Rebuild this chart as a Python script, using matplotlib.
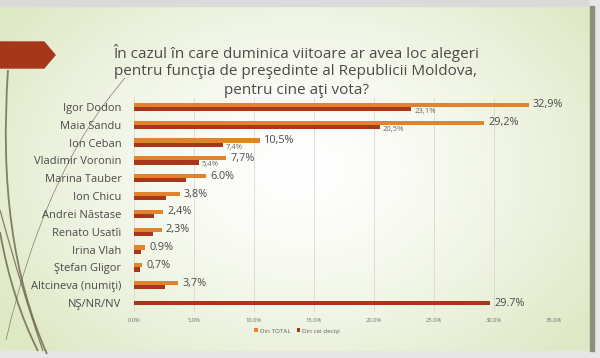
"""Poll chart: presidential vote intention, Republic of Moldova."""
import numpy as np
import matplotlib.pyplot as plt
from matplotlib.path import Path
from matplotlib.patches import PathPatch, Polygon, Rectangle

candidates = [
    "Igor Dodon", "Maia Sandu", "Ion Ceban", "Vladimir Voronin",
    "Marina Tauber", "Ion Chicu", "Andrei Năstase", "Renato Usatîi",
    "Irina Vlah", "Ştefan Gligor", "Altcineva (numiţi)", "NŞ/NR/NV",
]
din_total = [32.9, 29.2, 10.5, 7.7, 6.0, 3.8, 2.4, 2.3, 0.9, 0.7, 3.7, None]
din_decisi = [23.1, 20.5, 7.4, 5.4, 4.3, 2.7, 1.7, 1.6, 0.6, 0.5, 2.6, 29.7]
total_labels = ["32,9%", "29,2%", "10,5%", "7,7%", "6.0%", "3,8%", "2,4%",
                "2,3%", "0.9%", "0,7%", "3,7%", None]
decisi_labels = ["23,1%", "20,5%", "7,4%", "5,4%", None, None, None, None,
                 None, None, None, "29.7%"]
xticks = [0, 5, 10, 15, 20, 25, 30, 35]

title_lines = [
    "În cazul în care duminica viitoare ar avea loc alegeri",
    "pentru funcţia de preşedinte al Republicii Moldova,",
    "pentru cine aţi vota?",
]

ORANGE = "#E2832B"
DARK = "#A8361B"
TEXT = "#4A4A4A"
plt.rcParams["font.family"] = ["Open Sans", "DejaVu Sans"]

fig = plt.figure(figsize=(6, 3.58), dpi=100)

# slide background, drawn in pixel coordinates
bg = fig.add_axes([0, 0, 1, 1])
bg.set_xlim(0, 600)
bg.set_ylim(358, 0)
bg.axis("off")
yy, xx = np.mgrid[0:358, 0:600]
r = np.sqrt(((xx - 300) / 360.0) ** 2 + ((yy - 170) / 260.0) ** 2)
t = np.clip(r, 0, 1)[..., None] ** 1.4
white = np.array([1.0, 1.0, 1.0])
green = np.array([0.87, 0.91, 0.77])
bg.imshow(white * (1 - t) + green * t, extent=(0, 600, 358, 0), aspect="auto")
bg.add_patch(Rectangle((0, 0), 600, 6, color="#DADADA"))
bg.add_patch(Rectangle((0, 351), 600, 7, color="#E6E6E6"))
bg.add_patch(Rectangle((590, 0), 10, 358, color="#E6E6E6"))
bg.add_patch(Rectangle((590, 6), 4, 345, color="#8C9078"))

# red arrow tab
bg.add_patch(Polygon([(0, 42), (44, 42), (55, 55), (44, 68), (0, 68)],
                     closed=True, color="#A8361B"))

# decorative curves on the left
curves = [
    ([(8, 70), (-4, 240), (47, 354)], 1.3),
    ([(0, 232), (12, 300), (38, 351)], 1.3),
    ([(0, 210), (22, 290), (43, 351)], 0.9),
    ([(125, 78), (45, 170), (6, 340)], 0.5),
]
for pts, lw in curves:
    path = Path(pts, [Path.MOVETO, Path.CURVE3, Path.CURVE3])
    bg.add_patch(PathPatch(path, fill=False, ec="#6A6444", lw=lw, alpha=0.8))

for k, line in enumerate(title_lines):
    bg.text(296, 53 + 18.5 * k, line, ha="center", va="center",
            fontsize=11, color=TEXT)

# chart
ax = fig.add_axes([134 / 600, 1 - 312 / 358, 420 / 600, 214 / 358])
ax.patch.set_alpha(0)
y = np.arange(len(candidates))
h = 0.23
for i in range(len(candidates)):
    if din_total[i] is None:
        ax.barh(y[i], din_decisi[i], height=h, color=DARK)
        ax.text(din_decisi[i] + 0.35, y[i], decisi_labels[i], va="center",
                fontsize=7.8, color=TEXT)
        continue
    ax.barh(y[i] - h / 2, din_total[i], height=h, color=ORANGE,
            label="Din TOTAL" if i == 0 else None)
    ax.barh(y[i] + h / 2, din_decisi[i], height=h, color=DARK,
            label="Din cei decişi" if i == 0 else None)
    ax.text(din_total[i] + 0.35, y[i] - h / 2, total_labels[i], va="center",
            fontsize=7.8, color=TEXT)
    if decisi_labels[i]:
        ax.text(din_decisi[i] + 0.25, y[i] + h * 1.1, decisi_labels[i],
                va="center", fontsize=5.5, color="#666666")

ax.set_xlim(0, 35)
ax.set_ylim(len(candidates) - 0.5, -0.5)
ax.set_xticks(xticks)
ax.set_xticklabels([f"{v:.1f}%" for v in xticks], fontsize=4.2, color="#707070")
ax.set_yticks(y)
ax.set_yticklabels(candidates, fontsize=8, color=TEXT)
ax.tick_params(length=0, pad=4)
ax.tick_params(axis="y", pad=9)
ax.grid(axis="x", color="#D8D8D8", lw=0.6)
ax.set_axisbelow(True)
for s in ax.spines.values():
    s.set_visible(False)

fig.legend(loc="center", bbox_to_anchor=(297 / 600, 1 - 331 / 358), ncol=2,
           frameon=False, fontsize=4.5, handlelength=0.6, handleheight=0.6,
           handletextpad=0.3, columnspacing=1.0, labelcolor="#606060")

fig.savefig("out.png", dpi=100)
